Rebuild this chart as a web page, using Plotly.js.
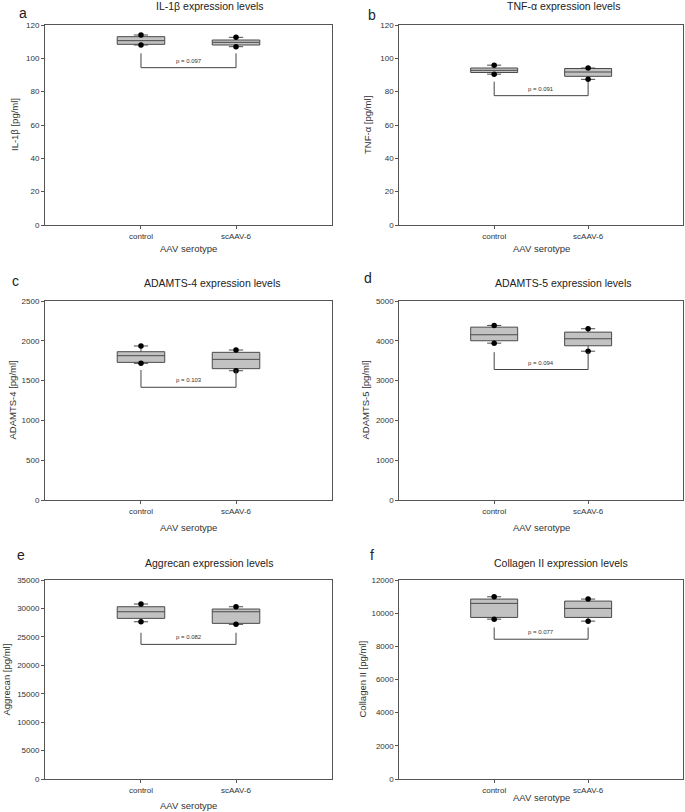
<!DOCTYPE html>
<html>
<head>
<meta charset="utf-8">
<script src="https://cdn.plot.ly/plotly-3.0.1.min.js"></script>
<style>html,body{margin:0;padding:0;background:#fff;}#chart{width:685px;height:812px;}</style>
</head>
<body>
<div id="chart"></div>
<script>
// ---- data ----
const categories = ['control', 'scAAV-6'];
const panelLetters = ['a', 'b', 'c', 'd', 'e', 'f'];
const panelTitles = ['IL-1β expression levels', 'TNF-α expression levels', 'ADAMTS-4 expression levels',
  'ADAMTS-5 expression levels', 'Aggrecan expression levels', 'Collagen II expression levels'];
const yTitles = ['IL-1β [pg/ml]', 'TNF-α [pg/ml]', 'ADAMTS-4 [pg/ml]', 'ADAMTS-5 [pg/ml]', 'Aggrecan [pg/ml]', 'Collagen II [pg/ml]'];
const xTitle = 'AAV serotype';
const yMax = [120, 120, 2500, 5000, 35000, 12000];
const yStep = [20, 20, 500, 1000, 5000, 2000];
// per panel: [control, scAAV-6]
const minVals = [[108.0, 107.0], [90.5, 87.4], [1717, 1624], [3941, 3739], [27655, 27197], [9640, 9519]];
const q1Vals = [[108.4, 108.0], [91.5, 89.2], [1729, 1650], [4001, 3875], [28253, 27373], [9743, 9743]];
const medVals = [[110.6, 109.6], [92.8, 91.8], [1813, 1767], [4152, 4051], [29416, 29416], [10590, 10287]];
const q3Vals = [[113.0, 111.0], [94.2, 93.9], [1863, 1855], [4343, 4218], [30297, 29892], [10850, 10729]];
const maxVals = [[114.0, 112.6], [95.9, 94.2], [1935, 1884], [4386, 4303], [30773, 30297], [10989, 10850]];
const bracketTop = [103, 86, 1633, 3714, 25718, 9137];
const bracketBottom = [94.4, 77.6, 1416, 3279, 23674, 8429];
const pTexts = ['p = 0.097', 'p = 0.091', 'p = 0.103', 'p = 0.094', 'p = 0.082', 'p = 0.077'];

// ---- layout geometry (pixels) ----
const W = 685, H = 812;
const colX = [[45, 332], [399.3, 683]];
const rowY = [[25, 225], [301, 500], [580, 779]];
const letterPos = [[23, 13], [372, 15], [15, 281], [368, 278], [21, 555], [372, 555]];
const titlePos = [[210, 6], [563, 6], [213, 283], [563, 283], [209, 563], [561, 563]];
const yTitlePos = [15, 368, 12, 365, 6, 362];
const xTitleY = [248, 248, 527, 527, 805, 797];

const font = 'Liberation Sans, Arial, sans-serif';
const lineCol = '#555555';
const traces = [];
const layout = {
  width: W, height: H, margin: {l: 0, r: 0, t: 0, b: 0},
  paper_bgcolor: '#fff', plot_bgcolor: '#fff', showlegend: false,
  font: {family: font, color: '#333'},
  annotations: []
};

for (let i = 0; i < 6; i++) {
  const col = i % 2, row = Math.floor(i / 2);
  const xs = i === 0 ? '' : String(i + 1);
  const xa = 'x' + xs, ya = 'y' + xs;
  const xdom = [colX[col][0] / W, colX[col][1] / W];
  const ydom = [1 - rowY[row][1] / H, 1 - rowY[row][0] / H];
  layout['xaxis' + xs] = {
    domain: xdom, anchor: ya, range: [-1.01, 2.01], tickvals: [0, 1], ticktext: categories,
    showline: true, mirror: true, linecolor: lineCol, linewidth: 1, ticks: 'outside', ticklen: 3,
    tickcolor: lineCol, showgrid: false, zeroline: false, tickfont: {size: 8, family: font, color: '#333'},
    fixedrange: true
  };
  layout['yaxis' + xs] = {
    domain: ydom, anchor: xa, range: [0, yMax[i]], dtick: yStep[i], tick0: 0, tickformat: 'd',
    showline: true, mirror: true, linecolor: lineCol, linewidth: 1, ticks: 'outside', ticklen: 3,
    tickcolor: lineCol, showgrid: false, zeroline: false, tickfont: {size: 8, family: font, color: '#333'},
    fixedrange: true
  };
  traces.push({
    type: 'box', xaxis: xa, yaxis: ya, x: [0, 1],
    q1: q1Vals[i], median: medVals[i], q3: q3Vals[i],
    lowerfence: minVals[i], upperfence: maxVals[i],
    boxpoints: false, width: 0.5, whiskerwidth: 0.3,
    fillcolor: '#c2c2c2', line: {color: '#4a4a4a', width: 1}, hoverinfo: 'skip'
  });
  traces.push({
    type: 'scatter', mode: 'markers', xaxis: xa, yaxis: ya,
    x: [0, 0, 1, 1], y: [maxVals[i][0], minVals[i][0], maxVals[i][1], minVals[i][1]],
    marker: {color: '#000', size: 5.5}, hoverinfo: 'skip'
  });
  traces.push({
    type: 'scatter', mode: 'lines', xaxis: xa, yaxis: ya,
    x: [0, 0, 1, 1], y: [bracketTop[i], bracketBottom[i], bracketBottom[i], bracketTop[i]],
    line: {color: '#444', width: 1}, hoverinfo: 'skip'
  });
  layout.annotations.push({
    xref: xa, yref: ya, x: 0.5, y: bracketBottom[i], yanchor: 'bottom', yshift: 2,
    text: pTexts[i], showarrow: false, font: {size: 6, family: font, color: '#333'}
  });
  layout.annotations.push({
    xref: 'paper', yref: 'paper', x: letterPos[i][0] / W, y: 1 - letterPos[i][1] / H,
    xanchor: 'center', yanchor: 'middle', text: panelLetters[i], showarrow: false,
    font: {size: 14, family: font, color: '#222'}
  });
  layout.annotations.push({
    xref: 'paper', yref: 'paper', x: titlePos[i][0] / W, y: 1 - titlePos[i][1] / H,
    xanchor: 'center', yanchor: 'middle', text: panelTitles[i], showarrow: false,
    font: {size: 10.5, family: font, color: '#222'}
  });
  layout.annotations.push({
    xref: 'paper', yref: 'paper', x: yTitlePos[i] / W, y: (ydom[0] + ydom[1]) / 2,
    xanchor: 'center', yanchor: 'middle', textangle: -90, text: yTitles[i], showarrow: false,
    font: {size: 9.5, family: font, color: '#333'}
  });
  layout.annotations.push({
    xref: 'paper', yref: 'paper', x: (xdom[0] + xdom[1]) / 2, y: 1 - xTitleY[i] / H,
    xanchor: 'center', yanchor: 'middle', text: xTitle, showarrow: false,
    font: {size: 9.5, family: font, color: '#333'}
  });
}

Plotly.newPlot('chart', traces, layout, {displayModeBar: false, staticPlot: true});
</script>
</body>
</html>
